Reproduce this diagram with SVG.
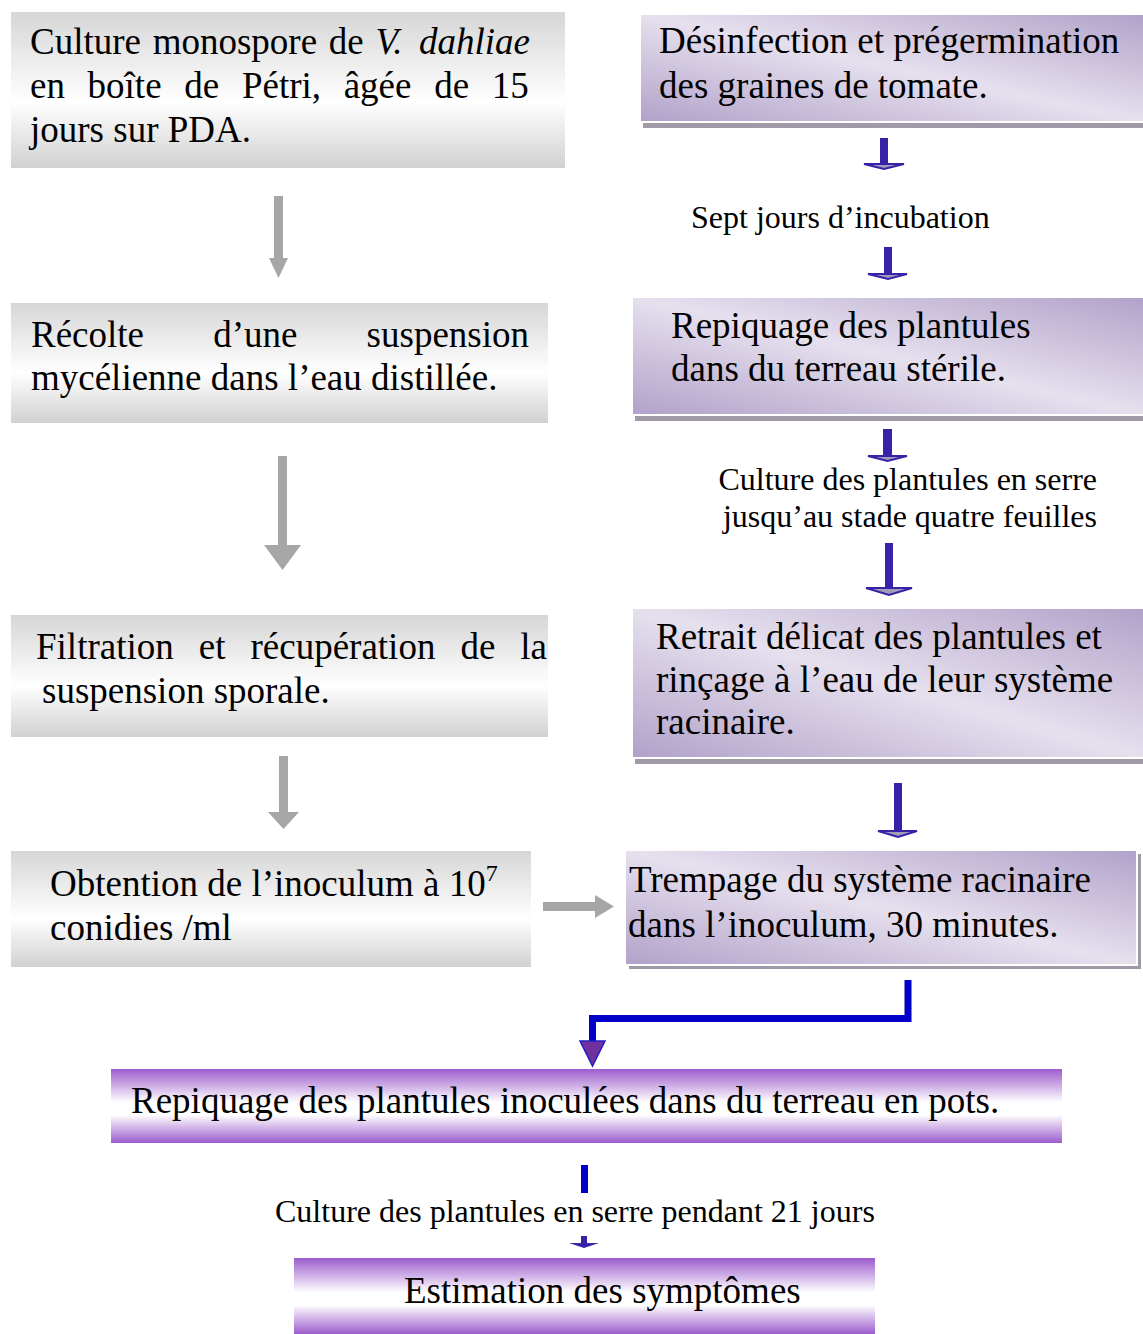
<svg xmlns="http://www.w3.org/2000/svg" width="1143" height="1334" viewBox="0 0 1143 1334">
<defs>
<linearGradient id="gGray" x1="0" y1="0" x2="0" y2="1">
<stop offset="0" stop-color="#d6d6d6"/><stop offset="0.58" stop-color="#ffffff"/><stop offset="1" stop-color="#d1d1d1"/>
</linearGradient>
<linearGradient id="gLilac" x1="0" y1="1" x2="1" y2="0">
<stop offset="0" stop-color="#b1a1c9"/><stop offset="0.5" stop-color="#e6e0ee"/><stop offset="1" stop-color="#b1a1c9"/>
</linearGradient>
<linearGradient id="gPurple" x1="0" y1="0" x2="0" y2="1">
<stop offset="0" stop-color="#9c5ccd"/><stop offset="0.45" stop-color="#ffffff"/><stop offset="0.62" stop-color="#ffffff"/><stop offset="1" stop-color="#9c5ccd"/>
</linearGradient>
<style>
.t{font-family:"Liberation Serif","Times New Roman",serif;font-size:37px;fill:#000}
.s{font-family:"Liberation Serif","Times New Roman",serif;font-size:32px;fill:#000}
.i{font-style:italic}
.gbox{fill:url(#gGray)}
.lbox{fill:url(#gLilac);stroke:#ffffff;stroke-width:2}
.pbox{fill:url(#gPurple)}
.shadow{fill:#a09aa8}
.gray{fill:#a6a6a6}
.navy{fill:#3a22a8}
.head{fill:#a19db8;stroke:#3a22a8;stroke-width:2;stroke-linejoin:miter}
.blue{fill:none;stroke:#0000c8;stroke-width:7}
</style>
</defs>
<rect width="1143" height="1334" fill="#ffffff"/>

<g id="n1">
<rect class="gbox" x="11" y="12" width="554" height="156"/>
<text class="t" y="54"><tspan x="30">Culture</tspan><tspan x="152.7">monospore</tspan><tspan x="328.8">de</tspan><tspan x="375.4" class="i">V.</tspan><tspan x="419" class="i">dahliae</tspan></text>
<text class="t" y="98"><tspan x="30">en</tspan><tspan x="87.6">boîte</tspan><tspan x="184.3">de</tspan><tspan x="241.9">Pétri,</tspan><tspan x="343.7">âgée</tspan><tspan x="434.2">de</tspan><tspan x="491.8">15</tspan></text>
<text class="t" x="30" y="142">jours sur PDA.</text>
</g>

<g id="n2">
<rect class="gbox" x="11" y="303" width="537" height="120"/>
<text class="t" y="347"><tspan x="31">Récolte</tspan><tspan x="213.2">d’une</tspan><tspan x="366.6">suspension</tspan></text>
<text class="t" x="31" y="390">mycélienne dans l’eau distillée.</text>
</g>

<g id="n3">
<rect class="gbox" x="11" y="615" width="537" height="122"/>
<text class="t" y="659"><tspan x="36">Filtration</tspan><tspan x="198.8">et</tspan><tspan x="250.5">récupération</tspan><tspan x="460.4">de</tspan><tspan x="520.3">la</tspan></text>
<text class="t" x="42" y="703">suspension sporale.</text>
</g>

<g id="n4">
<rect class="gbox" x="11" y="851" width="520" height="116"/>
<text class="t" x="50" y="896">Obtention de l’inoculum à 10<tspan font-size="24" dy="-15">7</tspan></text>
<text class="t" x="50" y="940">conidies /ml</text>
</g>

<g id="r1">
<rect class="shadow" x="643" y="20" width="503" height="108"/>
<rect class="lbox" x="640" y="14" width="505" height="108"/>
<text class="t" x="659" y="53">Désinfection et prégermination</text>
<text class="t" x="659" y="98">des graines de tomate.</text>
</g>

<g id="l1">
<text class="s" x="691" y="228">Sept jours d’incubation</text>
</g>

<g id="r2">
<rect class="shadow" x="635" y="303" width="511" height="118"/>
<rect class="lbox" x="632" y="297" width="513" height="118"/>
<text class="t" x="671" y="338">Repiquage des plantules</text>
<text class="t" x="671" y="381">dans du terreau stérile.</text>
</g>

<g id="l2">
<text class="s" x="1097" y="490" text-anchor="end">Culture des plantules en serre</text>
<text class="s" x="1097" y="527" text-anchor="end">jusqu’au stade quatre feuilles</text>
</g>

<g id="r3">
<rect class="shadow" x="635" y="614" width="511" height="150"/>
<rect class="lbox" x="632" y="608" width="513" height="150"/>
<text class="t" x="656" y="649">Retrait délicat des plantules et</text>
<text class="t" x="656" y="692">rinçage à l’eau de leur système</text>
<text class="t" x="656" y="734">racinaire.</text>
</g>

<g id="r4">
<rect class="shadow" x="629" y="854" width="512" height="115"/>
<rect class="lbox" x="625" y="850" width="512" height="115"/>
<text class="t" x="629" y="892">Trempage du système racinaire</text>
<text class="t" x="628" y="937">dans l’inoculum, 30 minutes.</text>
</g>

<g id="b1">
<rect class="pbox" x="111" y="1069" width="951" height="74"/>
<text class="t" x="131" y="1113">Repiquage des plantules inoculées dans du terreau en pots.</text>
</g>

<g id="l3">
<text class="s" x="275" y="1222">Culture des plantules en serre pendant 21 jours</text>
</g>

<g id="b2">
<rect class="pbox" x="294" y="1258" width="581" height="76"/>
<text class="t" x="404" y="1303">Estimation des symptômes</text>
</g>

<g id="connectors">
<rect class="gray" x="274" y="196" width="9" height="64"/>
<polygon class="gray" points="269,258 288,258 278.5,278"/>
<rect class="gray" x="278" y="456" width="9" height="92"/>
<polygon class="gray" points="264,545 301,545 282.5,570"/>
<rect class="gray" x="279" y="756" width="9" height="58"/>
<polygon class="gray" points="268,812 299,812 283.5,829"/>
<rect class="gray" x="543" y="902" width="54" height="9"/>
<polygon class="gray" points="595,895 595,918 614,906.5"/>

<rect class="navy" x="880" y="138" width="8" height="25"/>
<polygon class="head" points="864,164 904,164 884,169"/>
<rect class="navy" x="884" y="247" width="8" height="26"/>
<polygon class="head" points="868,274 907,274 888,279"/>
<rect class="navy" x="883" y="429" width="9" height="26"/>
<polygon class="head" points="868,456 907,456 887.5,461"/>
<rect class="navy" x="885" y="543" width="8" height="44"/>
<polygon class="head" points="866,588 912,588 889,595"/>
<rect class="navy" x="894" y="783" width="8" height="47"/>
<polygon class="head" points="878,831 917,831 898,837"/>

<polyline class="blue" points="908,980 908,1018.5 592.5,1018.5 592.5,1042"/>
<polygon points="580,1041 605,1041 592.5,1066" fill="#7030a0" stroke="#2020c0" stroke-width="1.5"/>

<rect x="581" y="1165" width="7" height="28" fill="#0000cc"/>
<rect class="navy" x="581" y="1236" width="6" height="8"/>
<polygon class="navy" points="569,1243 599,1243 584,1248"/>
</g>
</svg>
